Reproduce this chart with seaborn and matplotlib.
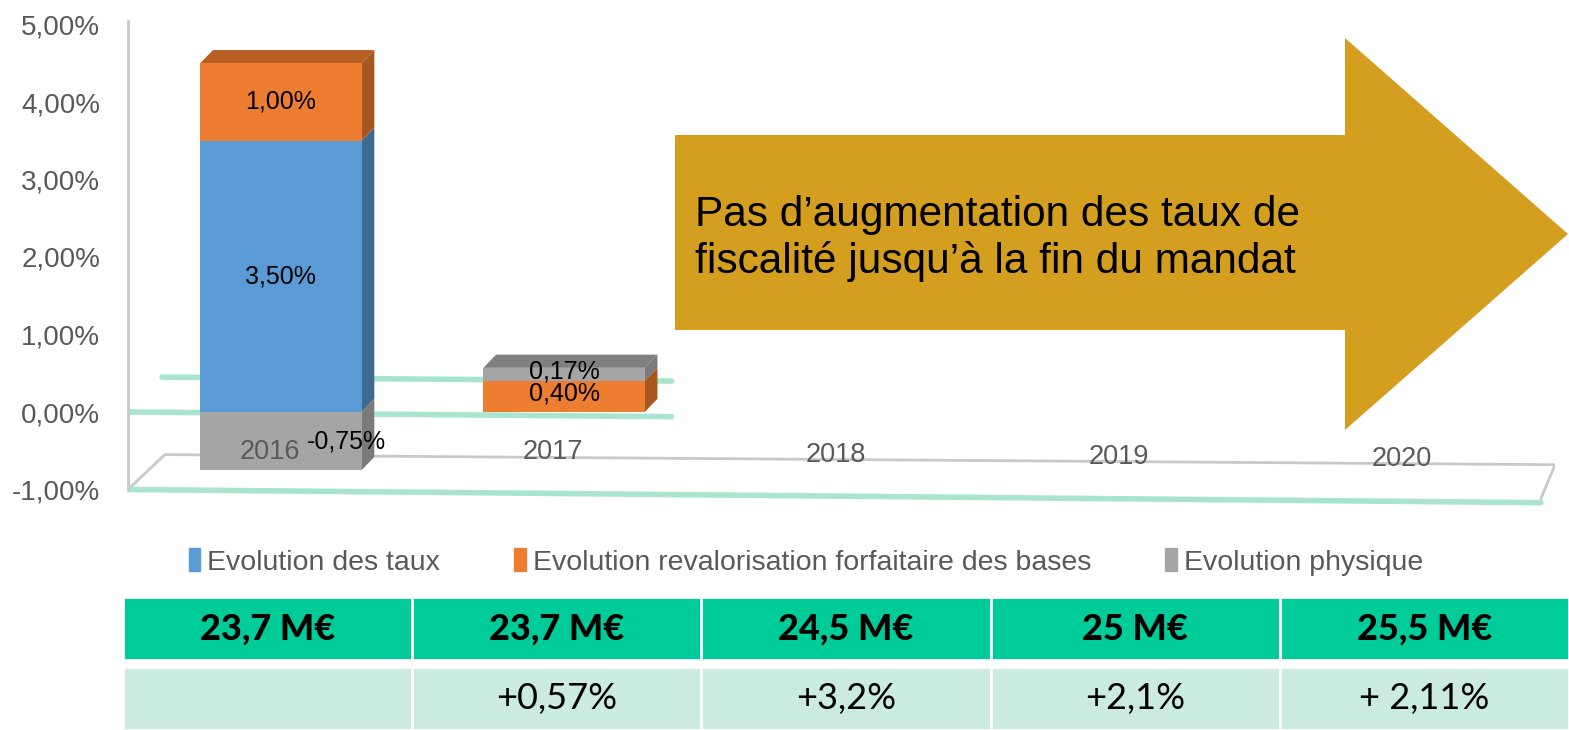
import numpy as np
import pandas as pd
import matplotlib
matplotlib.use("Agg")
import matplotlib.pyplot as plt
import seaborn as sns
from matplotlib.patches import Polygon, Rectangle

# data
years = ["2016", "2017", "2018", "2019", "2020"]
evol_taux = [3.50, 0.0, 0.0, 0.0, 0.0]
evol_reval = [1.00, 0.40, 0.0, 0.0, 0.0]
evol_physique = [-0.75, 0.17, 0.0, 0.0, 0.0]
series_names = ["Evolution des taux",
                "Evolution revalorisation forfaitaire des bases",
                "Evolution physique"]
y_ticks = [-1, 0, 1, 2, 3, 4, 5]
produit_total = ["23,7 M€", "23,7 M€", "24,5 M€", "25 M€", "25,5 M€"]
produit_evol = ["", "+0,57%", "+3,2%", "+2,1%", "+ 2,11%"]
message = ["Pas d’augmentation des taux de",
           "fiscalité jusqu’à la fin du mandat"]

front_colors = ["#5B9BD5", "#ED7D31", "#A5A5A5"]
side_colors = ["#3E6990", "#A8561F", "#7A7A7A"]
top_colors = ["#4A7DAB", "#B85E22", "#808080"]
mint = "#A9E5CD"
grey_txt = "#595959"

W, H = 1569, 730


def pct(v):
    return f"{v:.2f}".replace(".", ",") + "%"


sns.set_theme(style="white")
plt.rcParams["font.family"] = ["Liberation Sans", "DejaVu Sans"]

df = pd.DataFrame({"annee": years, "taux": evol_taux,
                   "reval": evol_reval, "phys": evol_physique})
taux = np.array(evol_taux)
reval = np.array(evol_reval)
phys = np.array(evol_physique)
bottoms = [np.zeros(len(years)), taux,
           np.where(phys < 0, 0.0, taux + reval)]
columns = ["taux", "reval", "phys"]

fig = plt.figure(figsize=(W / 100, H / 100), dpi=100)
# one unit = 77.5 px, zero line at y=412 px
y_lo, y_hi = -1.25, 5.1
px_unit = 77.5
top_px = 412 - y_hi * px_unit
bot_px = 412 - y_lo * px_unit
ax = fig.add_axes([128 / W, 1 - bot_px / H, (1555 - 128) / W,
                   (bot_px - top_px) / H])
x_lo, x_hi = -0.54, 4.5

# decorative pseudo-3D floor / grid lines
ax.plot([x_lo, 4.45], [-1.0, -1.17], color=mint, lw=4, zorder=1,
        solid_capstyle="round")
ax.plot([x_lo, 1.38], [0.0, -0.06], color=mint, lw=4, zorder=1)
ax.plot([-0.42, 1.38], [0.45, 0.40], color=mint, lw=4, zorder=1)
ax.plot([x_lo, -0.41, 4.5, 4.45], [-1.0, -0.55, -0.68, -1.12],
        color="#C8C8C8", lw=2, zorder=0.5)

dx, dy = 0.045, 0.17
segments = []
for col, bottom, fc in zip(columns, bottoms, front_colors):
    n0 = len(ax.patches)
    sns.barplot(data=df, x="annee", y=col, bottom=bottom, color=fc,
                width=0.57, errorbar=None, saturation=1, ax=ax,
                linewidth=0, zorder=3)
    segments.append(ax.patches[n0:])

# highest segment per year gets a top face
tops = {}
for s, bars in enumerate(segments):
    for i, b in enumerate(bars):
        if abs(b.get_height()) > 0:
            t = b.get_y() + max(b.get_height(), 0)
            if i not in tops or t > tops[i][0]:
                tops[i] = (t, s)

for s, bars in enumerate(segments):
    for i, b in enumerate(bars):
        h = b.get_height()
        if h == 0:
            continue
        x0, w = b.get_x(), b.get_width()
        y0, y1 = sorted([b.get_y(), b.get_y() + h])
        ax.add_patch(Polygon([(x0 + w, y0), (x0 + w + dx, y0 + dy),
                              (x0 + w + dx, y1 + dy), (x0 + w, y1)],
                             closed=True, color=side_colors[s], lw=0,
                             zorder=2.9))
        if tops[i][1] == s:
            ax.add_patch(Polygon([(x0, y1), (x0 + dx, y1 + dy),
                                  (x0 + w + dx, y1 + dy), (x0 + w, y1)],
                                 closed=True, color=top_colors[s], lw=0,
                                 zorder=2.9))

# value labels
for s, bars in enumerate(segments):
    for i, b in enumerate(bars):
        h = b.get_height()
        if h == 0:
            continue
        cx = b.get_x() + b.get_width() / 2
        cy = b.get_y() + h / 2
        if h < 0:
            cx += 0.23
        elif i > 0:
            cy += 0.04
        ax.text(cx, cy, pct(h), ha="center", va="center", fontsize=18,
                color="black", zorder=5)

# category labels sit on the floor
floor_y = [-0.52, -0.52, -0.55, -0.58, -0.61]
for i, (yr, fy) in enumerate(zip(years, floor_y)):
    ax.text(i - 0.04, fy, yr, ha="center", va="center", fontsize=19.5,
            color=grey_txt, zorder=4)

ax.set_ylim(y_lo, y_hi)
ax.set_xlim(x_lo, x_hi)
ax.set_yticks(y_ticks)
ax.set_yticklabels([pct(v) for v in y_ticks], fontsize=20, color=grey_txt)
ax.tick_params(axis="y", length=0, pad=20)
ax.set_xticks([])
ax.set_xlabel("")
ax.set_ylabel("")
for sp in ["top", "right", "bottom"]:
    ax.spines[sp].set_visible(False)
ax.spines["left"].set_color("#C8C8C8")
ax.spines["left"].set_linewidth(2)
ax.spines["left"].set_bounds(-1.0, 5.05)

# big arrow with the message
arrow_px = [(675, 135), (1345, 135), (1345, 38), (1568, 234),
            (1345, 430), (1345, 330), (675, 330)]
fig.add_artist(Polygon([(x / W, 1 - y / H) for x, y in arrow_px],
                       closed=True, color="#D49F1E", lw=0,
                       transform=fig.transFigure, zorder=5))
for line, ypx in zip(message, [215, 262]):
    fig.text(695 / W, 1 - ypx / H, line, fontsize=30.5, color="black",
             ha="left", va="center", zorder=6)

# legend
handles = [Rectangle((0, 0), 1, 1, color=c) for c in front_colors]
fig.legend(handles, series_names, loc="center",
           bbox_to_anchor=(806 / W, 1 - 562 / H), ncol=3, frameon=False,
           fontsize=20.5, handlelength=0.4, handleheight=0.85,
           handletextpad=0.25, columnspacing=2.6, labelcolor=grey_txt)

# table under the chart
tab = fig.add_axes([123 / W, 0, (W - 123) / W, 133 / H])
tab.set_xlim(0, 5)
tab.set_ylim(0, 133)
tab.axis("off")
for i, (tot, ev) in enumerate(zip(produit_total, produit_evol)):
    tab.add_patch(Rectangle((i, 70), 1, 63, facecolor="#00CC99",
                            edgecolor="white", lw=2))
    tab.add_patch(Rectangle((i, 0), 1, 63, facecolor="#CCEBE0",
                            edgecolor="white", lw=2))
    tab.text(i + 0.5, 101, tot, ha="center", va="center", fontsize=26,
             fontweight="black", color="black",
             family=["Lato", "DejaVu Sans"])
    tab.text(i + 0.5, 32, ev, ha="center", va="center", fontsize=26,
             color="black", family=["Lato", "DejaVu Sans"])

fig.savefig("out.png", dpi=100)
